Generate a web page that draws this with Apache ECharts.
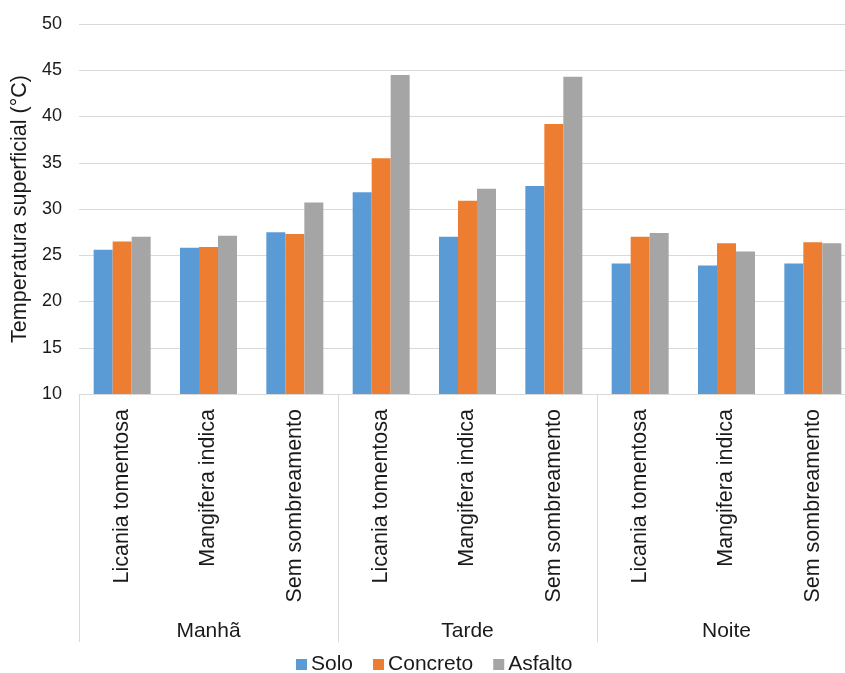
<!DOCTYPE html>
<html>
<head>
<meta charset="utf-8">
<script src="https://cdn.jsdelivr.net/npm/echarts@6/dist/echarts.min.js"></script>
<style>
  html, body { margin: 0; padding: 0; background: #fff; }
  #chart { width: 845px; height: 673px; }
</style>
</head>
<body>
<div id="chart"></div>
<script>
// Shading treatments within each period of the day
const treatments = [
  'Licania tomentosa', 'Mangifera indica', 'Sem sombreamento',
  'Licania tomentosa', 'Mangifera indica', 'Sem sombreamento',
  'Licania tomentosa', 'Mangifera indica', 'Sem sombreamento'
];
const periods = ['Manhã', 'Tarde', 'Noite'];

// Surface temperature (°C) per surface type
const solo     = [25.6, 25.8, 27.5, 31.8, 27.0, 32.5, 24.1, 23.9, 24.1];
const concreto = [26.5, 25.9, 27.3, 35.5, 30.9, 39.2, 27.0, 26.3, 26.4];
const asfalto  = [27.0, 27.1, 30.7, 44.5, 32.2, 44.3, 27.4, 25.4, 26.3];

const yMin = 10, yMax = 50, yStep = 5;

const font = 'Liberation Sans, Arial, sans-serif';
const textColor = '#1a1a1a';
const lineColor = '#d9d9d9';

const chart = echarts.init(document.getElementById('chart'), null, { renderer: 'canvas' });

function barSeries(name, data, color) {
  return {
    name: name,
    type: 'bar',
    data: data,
    barWidth: 19,
    barGap: '0%',
    itemStyle: { color: color },
    xAxisIndex: 0,
    yAxisIndex: 0
  };
}

chart.setOption({
  animation: false,
  textStyle: { fontFamily: font, color: textColor },
  // the plot runs a little past the right edge of the canvas
  grid: { left: 79, top: 24, width: 777, height: 370, outerBoundsMode: 'none', containLabel: false },
  legend: {
    left: 296,
    top: 654,
    padding: 0,
    itemWidth: 11,
    itemHeight: 11,
    itemGap: 20,
    icon: 'rect',
    textStyle: { fontFamily: font, fontSize: 21, color: textColor, padding: [0, 0, 0, -1] },
    data: ['Solo', 'Concreto', 'Asfalto']
  },
  xAxis: [
    {
      type: 'category',
      data: treatments,
      position: 'bottom',
      axisLine: { show: true, lineStyle: { color: lineColor, width: 1 } },
      axisTick: { show: false },
      axisLabel: {
        interval: 0,
        rotate: 90,
        margin: 15,
        fontFamily: font,
        fontSize: 21.5,
        color: textColor
      }
    },
    {
      type: 'category',
      data: periods,
      position: 'bottom',
      boundaryGap: true,
      axisLine: { show: false },
      axisTick: {
        show: true,
        interval: 0,
        length: 248,
        lineStyle: { color: lineColor, width: 1 }
      },
      axisLabel: {
        interval: 0,
        margin: 227,
        fontFamily: font,
        fontSize: 21,
        color: textColor
      }
    }
  ],
  yAxis: {
    type: 'value',
    min: yMin,
    max: yMax,
    interval: yStep,
    name: 'Temperatura superficial (°C)',
    nameLocation: 'middle',
    nameGap: 46,
    nameTextStyle: { fontFamily: font, fontSize: 21.5, color: textColor },
    axisLine: { show: false },
    axisTick: { show: false },
    axisLabel: { margin: 17, fontFamily: font, fontSize: 18, color: textColor },
    splitLine: { lineStyle: { color: lineColor, width: 1 } }
  },
  series: [
    barSeries('Solo', solo, '#5B9BD5'),
    barSeries('Concreto', concreto, '#ED7D31'),
    barSeries('Asfalto', asfalto, '#A5A5A5')
  ]
});
</script>
</body>
</html>
